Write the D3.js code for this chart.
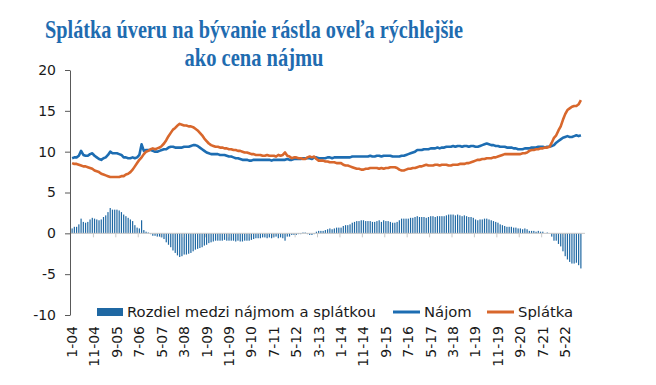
<!DOCTYPE html>
<html>
<head>
<meta charset="utf-8">
<script src="https://cdn.jsdelivr.net/npm/d3@7"></script>
<style>
  body { margin: 0; background: #fff; }
  text { font-family: "DejaVu Sans", Verdana, sans-serif; }
</style>
</head>
<body>
<div class="chart"></div>
<script>
// monthly data, 1-04 .. 12-22
const najom = [
  9.2, 9.3, 9.3, 9.5, 10.1, 9.6, 9.5, 9.5, 9.7, 9.8, 9.5, 9.3,
  9.1, 9.0, 9.2, 9.3, 9.6, 10.0, 9.8, 9.8, 9.8, 9.7, 9.6, 9.3,
  9.3, 9.2, 9.2, 9.3, 9.2, 9.3, 9.6, 10.9, 10.1, 10.2, 10.2, 10.2,
  10.1, 10.0, 10.0, 10.1, 10.2, 10.3, 10.3, 10.5, 10.6, 10.6, 10.5, 10.5,
  10.5, 10.5, 10.6, 10.6, 10.6, 10.7, 10.8, 10.8, 10.7, 10.5, 10.3, 10.1,
  9.9, 9.8, 9.7, 9.7, 9.7, 9.7, 9.6, 9.6, 9.6, 9.5, 9.4, 9.4,
  9.3, 9.2, 9.2, 9.1, 9.0, 9.0, 9.0, 8.9, 8.9, 9.0, 9.0, 9.0,
  9.0, 9.0, 9.0, 9.0, 9.0, 8.9, 9.0, 9.0, 9.0, 9.0, 9.0, 9.0,
  9.1, 9.0, 9.0, 9.1, 9.1, 9.1, 9.1, 9.2, 9.2, 9.2, 9.2, 9.1,
  9.3, 9.3, 9.2, 9.2, 9.2, 9.2, 9.3, 9.3, 9.2, 9.3, 9.3, 9.3,
  9.3, 9.3, 9.3, 9.3, 9.3, 9.4, 9.4, 9.4, 9.4, 9.4, 9.4, 9.4,
  9.4, 9.5, 9.4, 9.4, 9.5, 9.5, 9.4, 9.5, 9.5, 9.5, 9.5, 9.4,
  9.4, 9.4, 9.4, 9.5, 9.5, 9.6, 9.7, 9.8, 9.9, 10.0, 10.2, 10.2,
  10.2, 10.3, 10.3, 10.3, 10.4, 10.4, 10.4, 10.5, 10.4, 10.5, 10.5, 10.6,
  10.6, 10.6, 10.7, 10.6, 10.7, 10.7, 10.6, 10.7, 10.7, 10.6, 10.7, 10.7,
  10.6, 10.6, 10.7, 10.8, 10.9, 11.0, 10.9, 10.8, 10.8, 10.7, 10.7, 10.6,
  10.6, 10.6, 10.5, 10.5, 10.5, 10.4, 10.4, 10.3, 10.3, 10.3, 10.4, 10.4,
  10.4, 10.5, 10.5, 10.5, 10.6, 10.6, 10.6, 10.5, 10.6, 10.6, 10.7, 10.8,
  11.1, 11.3, 11.5, 11.7, 11.8, 11.9, 11.8, 11.8, 11.9, 12.0, 11.9, 12.0
];

const splatka = [
  8.6, 8.5, 8.5, 8.4, 8.3, 8.2, 8.2, 8.1, 8.0, 7.9, 7.7, 7.6,
  7.5, 7.3, 7.2, 7.1, 7.0, 6.9, 6.9, 6.9, 6.9, 6.9, 7.0, 7.0,
  7.2, 7.3, 7.5, 7.8, 8.2, 8.6, 9.0, 9.3, 9.7, 10.0, 10.1, 10.3,
  10.4, 10.3, 10.4, 10.5, 10.7, 11.0, 11.4, 11.9, 12.3, 12.7, 12.9, 13.2,
  13.4, 13.3, 13.2, 13.2, 13.1, 13.1, 13.0, 12.8, 12.6, 12.3, 12.0, 11.6,
  11.3, 11.0, 10.8, 10.7, 10.6, 10.6, 10.5, 10.5, 10.4, 10.4, 10.3, 10.3,
  10.2, 10.2, 10.1, 10.1, 10.0, 9.9, 9.9, 9.8, 9.7, 9.7, 9.6, 9.6,
  9.6, 9.5, 9.5, 9.6, 9.5, 9.5, 9.5, 9.4, 9.6, 9.5, 9.6, 9.9,
  9.5, 9.4, 9.2, 9.3, 9.3, 9.2, 9.2, 9.1, 9.1, 9.3, 9.4, 9.3,
  9.4, 9.1, 8.9, 8.9, 8.9, 8.8, 8.8, 8.7, 8.7, 8.7, 8.6, 8.6,
  8.6, 8.4, 8.3, 8.3, 8.2, 8.1, 8.0, 7.9, 7.9, 7.8, 7.8, 7.9,
  7.9, 8.0, 8.0, 8.0, 8.0, 7.9, 8.0, 7.9, 8.0, 8.0, 8.1, 8.1,
  8.1, 8.0, 7.8, 7.7, 7.7, 7.8, 7.9, 7.9, 8.0, 8.0, 8.1, 8.2,
  8.2, 8.3, 8.4, 8.3, 8.3, 8.3, 8.4, 8.4, 8.3, 8.4, 8.4, 8.4,
  8.3, 8.3, 8.4, 8.4, 8.4, 8.5, 8.5, 8.5, 8.6, 8.6, 8.7, 8.8,
  8.9, 9.0, 9.0, 9.1, 9.1, 9.2, 9.2, 9.2, 9.3, 9.3, 9.4, 9.5,
  9.6, 9.7, 9.7, 9.7, 9.7, 9.7, 9.7, 9.7, 9.7, 9.8, 9.8, 9.9,
  10.1, 10.2, 10.2, 10.3, 10.3, 10.4, 10.4, 10.5, 10.5, 10.6, 11.1, 11.7,
  12.0, 12.6, 13.1, 13.9, 14.6, 15.1, 15.3, 15.5, 15.6, 15.6, 15.8, 16.3
];

const tickLabels = ["1-04", "11-04", "9-05", "7-06", "5-07", "3-08", "1-09", "11-09",
  "9-10", "7-11", "5-12", "3-13", "1-14", "11-14", "9-15", "7-16", "5-17", "3-18",
  "1-19", "11-19", "9-20", "7-21", "5-22"];
const yTicks = [-10, -5, 0, 5, 10, 15, 20];
const titleLines = ["Splátka úveru na bývanie rástla oveľa rýchlejšie", "ako cena nájmu"];
const legendNames = ["Rozdiel medzi nájmom a splátkou", "Nájom", "Splátka"];

// month categories "m-yy"
const months = najom.map((d, i) => `${i % 12 + 1}-${String(4 + Math.floor(i / 12)).padStart(2, "0")}`);
const rozdiel = najom.map((d, i) => d - splatka[i]);

const blue = "#1d6db2", orange = "#d8672c", barBlue = "#1f68a3";

const W = 656, H = 385;
const margin = ({top: 70, right: 71, bottom: 70, left: 70});
const w = W - margin.left - margin.right,
      h = H - margin.top - margin.bottom;

const root = d3.select(".chart").append("svg")
  .attr("width", W).attr("height", H);

const svg = root.append("g")
  .attr("transform", `translate(${margin.left},${margin.top})`);

// title
root.selectAll(".title")
  .data(titleLines)
  .enter().append("text")
  .attr("x", 254)
  .attr("y", (d, i) => 38 + i * 28)
  .attr("text-anchor", "middle")
  .attr("font-weight", "bold")
  .attr("font-size", 25)
  .attr("fill", "#1f6cb0")
  .attr("textLength", (d, i) => i === 0 ? 418 : 139)
  .attr("lengthAdjust", "spacingAndGlyphs")
  .style("font-family", "'Liberation Serif', serif")
  .text(d => d);

const xScale = d3.scaleBand()
  .domain(months)
  .range([1, 512]);

const yScale = d3.scaleLinear()
  .domain([-10, 20])
  .range([h, 0]);

const cx = i => xScale(months[i]) + xScale.bandwidth() / 2;

// difference bars
svg.selectAll(".bar")
  .data(rozdiel)
  .enter().append("rect")
  .attr("x", (d, i) => cx(i) - 0.6)
  .attr("width", 1.2)
  .attr("y", d => yScale(Math.max(0, d)))
  .attr("height", d => Math.abs(yScale(d) - yScale(0)))
  .attr("fill", barBlue);

// zero line with category ticks
const zeroY = yScale(0);
svg.append("line")
  .attr("x1", 0).attr("x2", 515)
  .attr("y1", zeroY).attr("y2", zeroY)
  .attr("stroke", "#c8c8c8");

svg.selectAll(".xtick")
  .data(tickLabels.slice(1))
  .enter().append("line")
  .attr("x1", d => xScale(d)).attr("x2", d => xScale(d))
  .attr("y1", zeroY).attr("y2", zeroY + 4)
  .attr("stroke", "#c8c8c8");

// lines
const line = arr => d3.line()
  .x((d, i) => cx(i))
  .y(d => yScale(d))(arr);

svg.append("path")
  .attr("d", line(najom))
  .attr("fill", "none")
  .attr("stroke", blue)
  .attr("stroke-width", 2.6)
  .attr("stroke-linejoin", "round");

svg.append("path")
  .attr("d", line(splatka))
  .attr("fill", "none")
  .attr("stroke", orange)
  .attr("stroke-width", 2.6)
  .attr("stroke-linejoin", "round");

// y axis
const yAxis = d3.axisLeft(yScale)
  .tickValues(yTicks)
  .tickFormat(d => String(d))
  .tickSize(5)
  .tickSizeOuter(0)
  .tickPadding(9);

svg.append("g")
  .attr("class", "axis y-axis")
  .call(yAxis)
  .call(g => g.select(".domain").attr("stroke", "#595959"))
  .call(g => g.selectAll(".tick line").attr("stroke", "#595959"))
  .call(g => g.selectAll(".tick text")
    .attr("font-size", 14)
    .attr("fill", "#1a1a1a")
    .style("font-family", "'DejaVu Sans', sans-serif"));

// x labels, rotated, below the plot
const xAxis = d3.axisBottom(xScale)
  .tickValues(tickLabels)
  .tickSize(0)
  .tickPadding(0);

svg.append("g")
  .attr("class", "axis x-axis")
  .attr("transform", `translate(0,${h + 11})`)
  .call(xAxis)
  .call(g => g.select(".domain").remove())
  .call(g => g.selectAll(".tick text")
    .attr("font-size", 14)
    .attr("fill", "#1a1a1a")
    .style("font-family", "'DejaVu Sans', sans-serif")
    .attr("text-anchor", "end")
    .attr("transform", "rotate(-90)")
    .attr("x", 0)
    .attr("y", 0)
    .attr("dy", "0.35em"));

// legend
const legend = root.append("g").attr("class", "legend");
legend.append("rect")
  .attr("x", 97).attr("y", 308)
  .attr("width", 26).attr("height", 8)
  .attr("fill", barBlue);

const legendItems = [
  {x: 127, name: legendNames[0]},
  {x: 424, name: legendNames[1], color: blue, lx: 393},
  {x: 518, name: legendNames[2], color: orange, lx: 487}
];

legend.selectAll(".lline")
  .data(legendItems.filter(d => d.color))
  .enter().append("line")
  .attr("x1", d => d.lx).attr("x2", d => d.lx + 27)
  .attr("y1", 312).attr("y2", 312)
  .attr("stroke", d => d.color)
  .attr("stroke-width", 3);

legend.selectAll(".ltext")
  .data(legendItems)
  .enter().append("text")
  .attr("x", d => d.x)
  .attr("y", 317)
  .attr("font-size", 14.8)
  .attr("fill", "#1a1a1a")
  .text(d => d.name);
</script>
</body>
</html>
